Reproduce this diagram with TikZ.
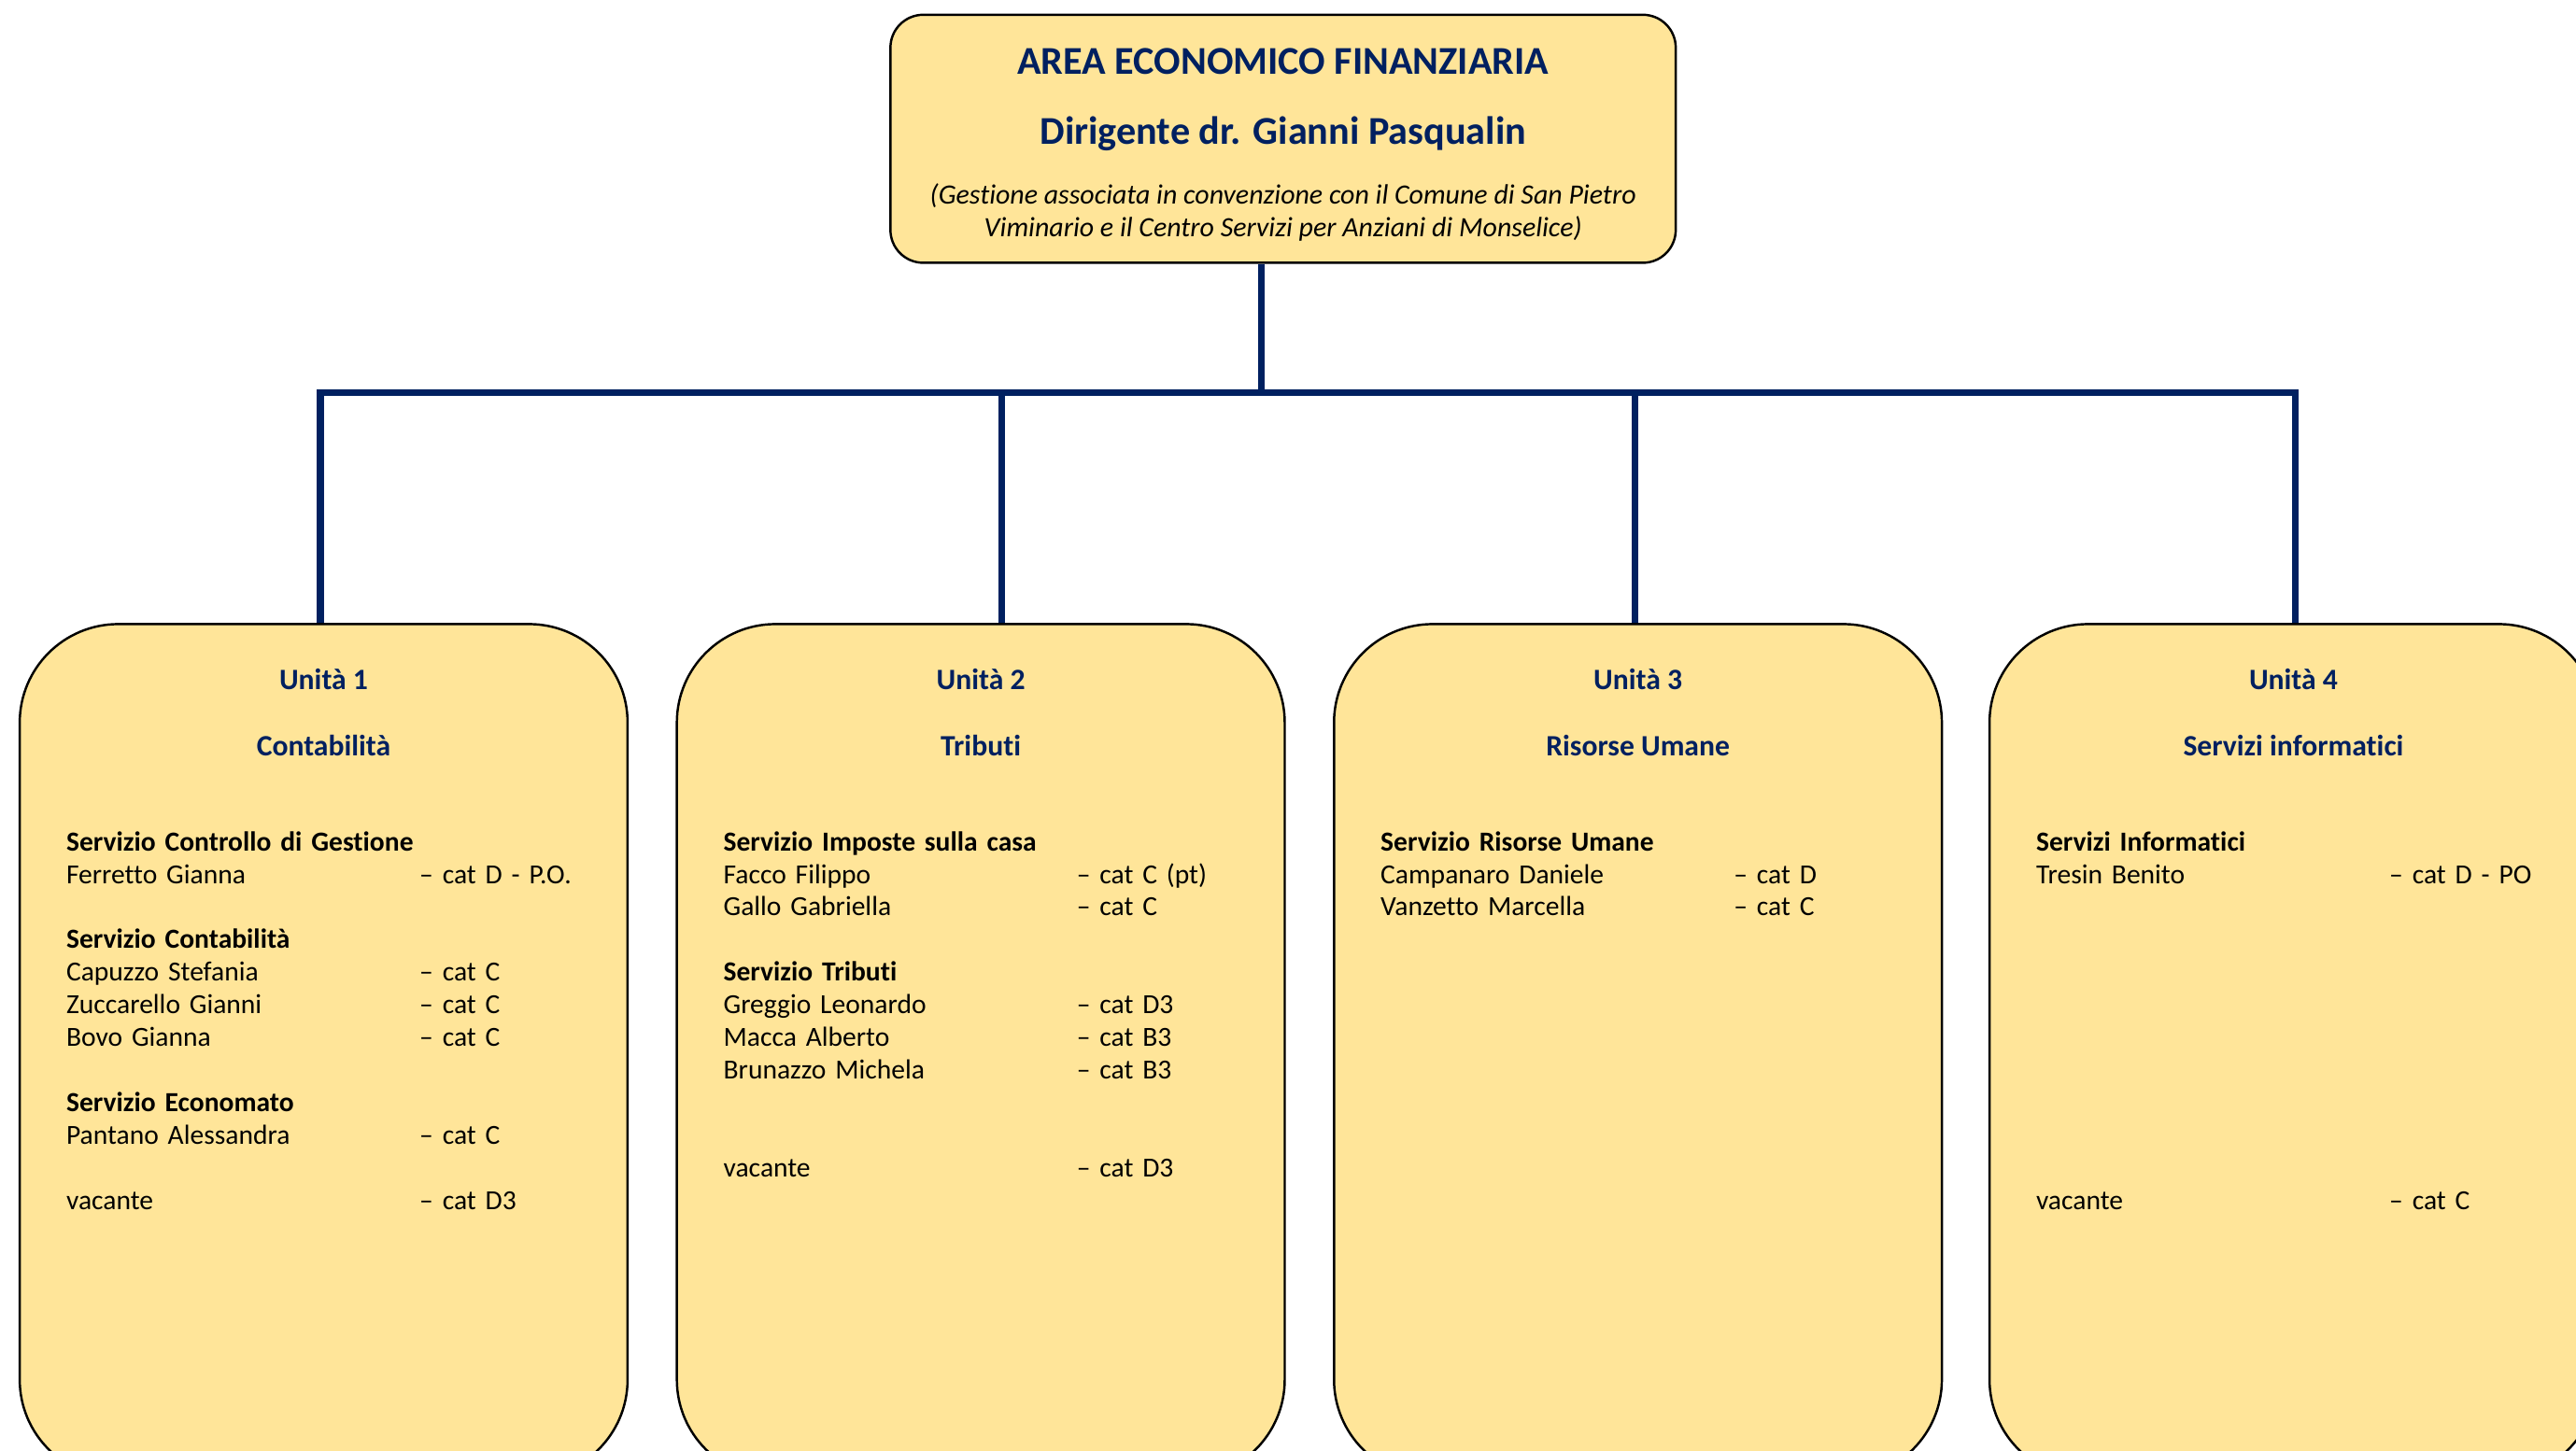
\documentclass[tikz,border=0pt]{standalone}
\usepackage{fontspec}
\setmainfont{Carlito}[Ligatures=NoCommon]
\usetikzlibrary{positioning}
\definecolor{navy}{RGB}{0,32,96}
\definecolor{giallo}{RGB}{255,229,153}
\newcommand{\riga}[2]{\makebox[107.5pt][l]{#1}#2}
\tikzset{box/.style={draw,fill=giallo,line width=0.7pt}}
\tikzset{capo/.style={box,rounded corners=10pt,minimum width=239pt,minimum height=75.5pt}}
\tikzset{unita/.style={box,rounded corners=30pt,minimum width=185pt,minimum height=260pt}}
\tikzset{link/.style={draw=navy,line width=2pt}}
\tikzset{titolo/.style={anchor=base,text=navy,font=\fontsize{12}{14}\selectfont\bfseries}}
\tikzset{nota/.style={anchor=base,font=\fontsize{8.5}{10}\selectfont\itshape}}
\tikzset{head/.style={anchor=base,text=navy,font=\fontsize{9}{11}\selectfont\bfseries}}
\tikzset{elenco/.style={anchor=base west,align=left,text width=170pt,inner sep=0pt,font=\fontsize{8.4}{9.92}\selectfont}}

\begin{document}
\begin{tikzpicture}[x=0.5pt,y=-0.5pt]
    \useasboundingbox (0,0) rectangle (1568,883);
    \clip (0,0) rectangle (1568,883);

    % area
    \node[capo] (area) at (781,84.5) {};
    \node[titolo] (t1) at (781,45) {AREA ECONOMICO FINANZIARIA};
    \node[titolo] (t2) at (781,88) {Dirigente dr. Gianni Pasqualin};
    \node[nota] (n1) at (781,124) {(Gestione associata in convenzione con il Comune di San Pietro};
    \node[nota] (n2) at (781,144) {Viminario e il Centro Servizi per Anziani di Monselice)};

    % unita
    \node[unita] (u1) at (197,640) {};
    \node[unita] (u2) at (597,640) {};
    \node[unita] (u3) at (997,640) {};
    \node[unita] (u4) at (1396,640) {};

    \node[head] (h1) at (197,420) {Unità 1};
    \node[head] (s1) at (197,460) {Contabilità};
    \node[head] (h2) at (597,420) {Unità 2};
    \node[head] (s2) at (597,460) {Tributi};
    \node[head] (h3) at (997,420) {Unità 3};
    \node[head] (s3) at (997,460) {Risorse Umane};
    \node[head] (h4) at (1396,420) {Unità 4};
    \node[head] (s4) at (1396,460) {Servizi informatici};

    \node[elenco] (e1) at (40,518) {\textbf{Servizio Controllo di Gestione}\\
        \riga{Ferretto Gianna}{– cat D - P.O.}\\[9.92pt]
        \textbf{Servizio Contabilità}\\
        \riga{Capuzzo Stefania}{– cat C}\\
        \riga{Zuccarello Gianni}{– cat C}\\
        \riga{Bovo Gianna}{– cat C}\\[9.92pt]
        \textbf{Servizio Economato}\\
        \riga{Pantano Alessandra}{– cat C}\\[9.92pt]
        \riga{vacante}{– cat D3}};
    \node[elenco] (e2) at (440,518) {\textbf{Servizio Imposte sulla casa}\\
        \riga{Facco Filippo}{– cat C (pt)}\\
        \riga{Gallo Gabriella}{– cat C}\\[9.92pt]
        \textbf{Servizio Tributi}\\
        \riga{Greggio Leonardo}{– cat D3}\\
        \riga{Macca Alberto}{– cat B3}\\
        \riga{Brunazzo Michela}{– cat B3}\\[19.84pt]
        \riga{vacante}{– cat D3}};
    \node[elenco] (e3) at (840,518) {\textbf{Servizio Risorse Umane}\\
        \riga{Campanaro Daniele}{– cat D}\\
        \riga{Vanzetto Marcella}{– cat C}};
    \node[elenco] (e4) at (1239,518) {\textbf{Servizi Informatici}\\
        \riga{Tresin Benito}{– cat D - PO}\\[89.28pt]
        \riga{vacante}{– cat C}};

    % linee
    \coordinate (hub) at (768,239);
    \coordinate (b1) at (195,239);
    \coordinate (b2) at (610,239);
    \coordinate (b3) at (995,239);
    \coordinate (b4) at (1397,239);
    \path[link] (hub |- area.south) -- (hub);
    \path[link] (b1 |- u1.north) -- (b1) -- (b4) -- (b4 |- u4.north);
    \path[link] (b2) -- (b2 |- u2.north);
    \path[link] (b3) -- (b3 |- u3.north);
\end{tikzpicture}
\end{document}
